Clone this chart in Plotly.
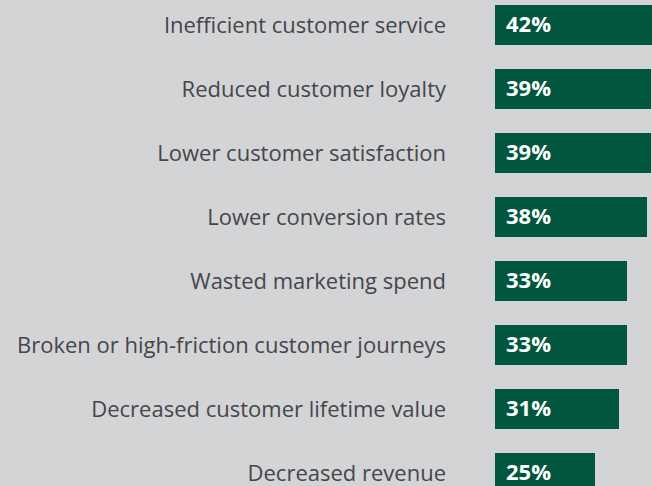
import plotly.graph_objects as go

categories = [
    "Inefficient customer service",
    "Reduced customer loyalty",
    "Lower customer satisfaction",
    "Lower conversion rates",
    "Wasted marketing spend",
    "Broken or high-friction customer journeys",
    "Decreased customer lifetime value",
    "Decreased revenue",
]
values = [42, 39, 39, 38, 33, 33, 31, 25]
value_labels = ["42%", "39%", "39%", "38%", "33%", "33%", "31%", "25%"]

BG = "#d3d4d6"
BAR = "#01573d"

fig = go.Figure(
    go.Bar(
        x=values,
        y=categories,
        orientation="h",
        marker=dict(color=BAR, line=dict(width=0)),
        width=0.625,
        hoverinfo="skip",
    )
)

for cat, lab in zip(categories, value_labels):
    fig.add_annotation(
        x=0, y=cat, xref="x", yref="y", text=lab, showarrow=False,
        xanchor="left", yanchor="middle", xshift=9, yshift=2,
        font=dict(family="Open Sans", size=22, color="white", weight="bold"),
    )

fig.update_layout(
    width=652, height=486,
    margin=dict(l=495, r=0, t=0, b=0),
    paper_bgcolor=BG, plot_bgcolor=BG,
    showlegend=False,
    xaxis=dict(range=[0, 39.25], visible=False, fixedrange=True),
    yaxis=dict(
        type="category",
        categoryorder="array", categoryarray=categories,
        range=[7.203, -0.391],
        showgrid=False, zeroline=False, showline=False, ticks="",
        ticklabelstandoff=48,
        tickfont=dict(family="Open Sans", size=22, color="#45464a"),
    ),
)

fig.write_html("out.html", config={"displayModeBar": False},
               post_script="document.body.style.margin='0';document.body.style.background='%s';" % BG)
